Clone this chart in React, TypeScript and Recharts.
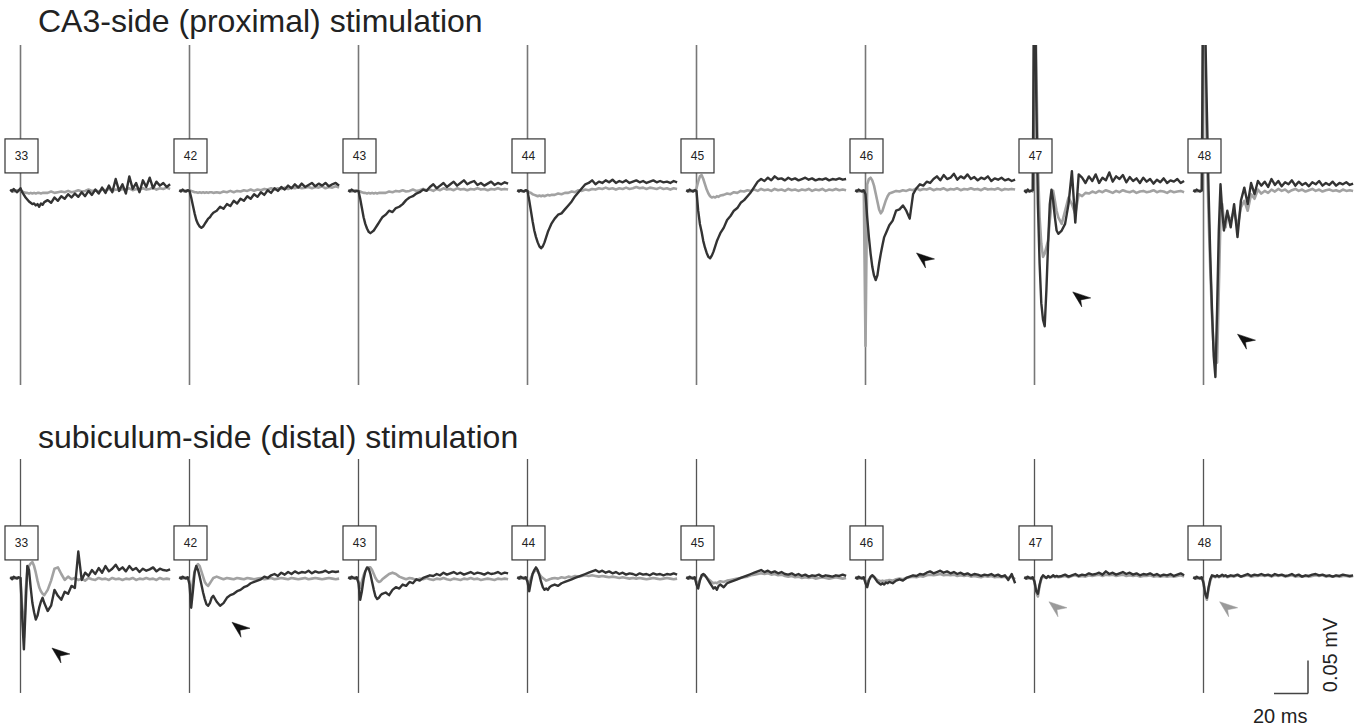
import React from "react";
import { LineChart, Line, XAxis, YAxis, ReferenceLine, ReferenceDot } from "recharts";

// sample times relative to the stimulus (ms), shared by every sweep
const TIMES_MS = [
  -6, -5, -4, -3, -2, -1,
  0, 1, 2, 3, 4, 5, 6, 7, 8, 9, 10, 11, 12, 13, 14,
  16, 18, 20, 22, 24, 26, 28, 30, 32, 34, 36, 38, 40, 42, 44, 46, 48, 50, 52,
  54, 56, 58, 60, 62, 64, 66, 68, 70, 72, 74, 76, 78, 80, 82, 84, 86, 88,
];

const PANEL_LABELS = ["33", "42", "43", "44", "45", "46", "47", "48"];

// CA3-side (proximal) stimulation, field potential in µV
const PROX_DARK = [
  [2, -1, 3, 0, -2, 1,
    4, -2, -6, -10, -13, -16, -18, -20, -19, -22, -20, -24, -19, -21, -17,
    -14, -18, -10, -15, -8, -12, -5, -10, -4, -9, -2, -8, 0, -6, 2, -4, 5, -3, 8, -2,
    18, 0, 10, -4, 22, 3, 12, -2, 16, 6, 20, 4, 14, 8, 12, 6, 10],
  [1, -1, 2, 0, -1, 1,
    0, -10, -22, -34, -44, -50, -54, -56, -54, -50, -46, -42, -40, -36, -33,
    -30, -24, -27, -20, -23, -15, -19, -12, -15, -8, -12, -5, -9, -2, -6, 1, -3, 4, 0, 6,
    2, 8, 4, 10, 5, 11, 6, 9, 12, 7, 11, 8, 12, 7, 10, 12, 8],
  [1, -1, 2, 0, -1, 0,
    0, -12, -26, -40, -50, -57, -62, -64, -62, -60, -56, -52, -48, -44, -40,
    -36, -30, -32, -26, -24, -20, -14, -10, -8, -4, -2, 2, 0, 6, 10, 4, 8, 12, 6, 10,
    14, 8, 12, 16, 10, 13, 15, 9, 12, 8, 11, 14, 9, 12, 10, 13, 11],
  [1, -1, 1, 0, -1, 1,
    0, -14, -30, -46, -60, -70, -78, -84, -87, -84, -78, -70, -62, -56, -50,
    -42, -36, -34, -28, -22, -16, -8, -2, 4, 10, 12, 16, 10, 14, 12, 16, 13, 17, 12, 15,
    13, 16, 12, 14, 16, 13, 15, 12, 14, 16, 13, 15, 13, 14, 12, 15, 13],
  [1, -1, 2, 0, -1, 1,
    0, -30, -50, -62, -76, -86, -94, -100, -102, -98, -92, -84, -76, -70, -64,
    -56, -44, -38, -30, -26, -18, -14, -8, -2, 6, 14, 18, 15, 20, 16, 22, 18, 19, 16, 20,
    17, 19, 16, 18, 20, 17, 19, 16, 18, 17, 19, 16, 18, 17, 19, 17, 18],
  [1, -1, 2, 0, -1, 1,
    -5, -40, -70, -95, -115, -128, -135, -128, -110, -95, -82, -70, -64, -58, -52,
    -45, -30, -28, -22, -30, -42, -5, 4, 10, 8, 14, 12, 18, 22, 16, 24, 18, 20, 26, 17,
    22, 19, 25, 18, 21, 16, 20, 18, 22, 15, 19, 17, 20, 16, 18, 15, 17],
  [1, -2, 2, -1, 0, 1,
    400, 150, -20, -110, -170, -195, -205, -150, -80, -20, 2, -15, -40, -60, -65,
    -60, -50, -20, 30, -48, 25, 20, 12, 22, 15, 25, 12, 20, 16, 28, 14, 22, 18, 24, 13,
    21, 15, 19, 12, 20, 14, 18, 11, 17, 13, 19, 12, 16, 14, 18, 12, 15],
  [1, -1, 2, 0, -1, 1,
    400, 250, 120, 0, -100, -180, -250, -282, -180, -60, 10, -30, -60, -45, -30,
    -55, -20, -70, -15, 5, -20, 12, -5, 15, 8, 14, 6, 18, 9, 15, 7, 13, 10, 16, 8,
    14, 9, 12, 7, 13, 10, 15, 8, 12, 9, 14, 8, 12, 10, 13, 9, 11],
];

const PROX_GRAY = [
  [0, 1, -1, 0, 1, 0,
    1, -1, -2, -3, -3, -4, -3, -4, -3, -4, -3, -3, -4, -3, -3,
    -3, -1, -3, -2, -1, -2, 0, -2, -1, 1, -1, 0, 2, 0, 1, -1, 2, 1, 3, 0,
    2, 1, 3, 2, 4, 1, 3, 2, 4, 2, 3, 5, 2, 4, 3, 5, 3],
  [0, 1, 0, -1, 1, 0,
    1, 0, -1, -2, -2, -3, -2, -3, -2, -3, -2, -3, -2, -2, -3,
    -2, -3, -1, -2, 0, -2, 0, -1, 1, 0, 2, 0, 2, 1, 3, 2, 4, 2, 4, 3,
    5, 3, 5, 4, 6, 4, 5, 6, 4, 6, 5, 7, 4, 6, 5, 7, 5],
  [0, 1, -1, 0, 1, 0,
    0, -1, -2, -3, -3, -4, -3, -4, -3, -4, -3, -4, -3, -3, -3,
    -3, -1, -2, 0, -1, 1, -1, 0, 2, 0, 1, 3, 1, 2, 0, 3, 1, 4, 2, 3,
    1, 4, 2, 3, 1, 3, 2, 4, 2, 3, 1, 3, 2, 4, 2, 3, 2],
  [0, 1, 0, -1, 0, 1,
    0, -2, -3, -5, -6, -7, -8, -7, -8, -7, -8, -7, -6, -7, -6,
    -6, -4, -5, -3, -3, -1, -2, 1, 0, 2, 1, 3, 2, 4, 3, 5, 3, 4, 2, 4,
    3, 5, 3, 4, 6, 4, 5, 3, 5, 4, 3, 5, 3, 4, 2, 4, 3],
  [0, 1, -1, 0, 1, 0,
    4, 14, 22, 24, 18, 10, 2, -4, -8, -10, -9, -10, -8, -9, -7,
    -6, -4, -5, -2, -3, 0, -1, 1, 0, 2, 0, 3, 1, 2, 0, 3, 1, 2, 0, 3,
    1, 2, 0, 2, 1, 3, 0, 2, 1, 3, 0, 2, 1, 3, 1, 2, 1],
  [0, 1, -1, 0, 1, 0,
    -235, 10, 18, 20, 16, 8, -4, -16, -28, -34, -30, -22, -14, -8, -4,
    -2, 0, -1, 1, 0, 2, 1, 4, 1, 3, 2, 4, 1, 3, 2, 4, 1, 3, 2, 4,
    1, 3, 2, 4, 2, 3, 1, 4, 2, 3, 2, 4, 1, 3, 2, 3, 2],
  [0, 1, -1, 0, 1, -1,
    400, 200, 40, -40, -80, -100, -95, -85, -75, -45, -20, 0, -15, -30, -40,
    -50, -30, -10, -20, -35, -5, -8, -3, -4, -1, -3, 0, -2, 1, -1, -3, 0, -2, 1, -1,
    -2, 0, -3, -1, 0, -2, -1, 1, -2, 0, -1, -3, 0, -2, -1, 0, -2],
  [0, 1, -1, 0, 1, 0,
    400, 180, 60, -40, -120, -190, -240, -255, -260, -150, -40, -20, -45, -55, -35,
    -45, -30, -55, -25, -15, -30, -5, -12, 2, -4, 0, -3, 2, -1, 3, 0, 2, -2, 1, 3,
    0, 2, -1, 1, 3, 0, 2, -1, 1, 2, 0, 1, -1, 2, 0, 1, 0],
];

// subiculum-side (distal) stimulation, field potential in µV
const DIST_DARK = [
  [1, -2, 2, 0, -1, 1,
    0, -60, -108, -45, 18, 12, -15, -38, -52, -63, -57, -45, -36, -30, -38,
    -50, -42, -18, -27, -33, -21, -24, -12, -15, 40, -3, 8, 3, 12, 6, 15, 8, 18, 10, 14,
    20, 12, 16, 10, 18, 12, 15, 9, 14, 11, 13, 16, 10, 14, 12, 11, 13],
  [1, -1, 2, 0, -1, 1,
    -10, -45, -20, 8, 18, 12, 2, -10, -22, -32, -40, -42, -38, -30, -27,
    -36, -42, -38, -30, -26, -24, -20, -18, -14, -12, -8, -6, -4, -2, 2, 0, 4, 6, 3, 8,
    5, 9, 6, 10, 7, 9, 8, 11, 7, 10, 8, 9, 11, 8, 10, 9, 10],
  [1, -1, 2, 0, -1, 1,
    -8, -33, -20, -2, 10, 16, 14, 6, -6, -18, -28, -32, -30, -26, -24,
    -22, -26, -18, -14, -16, -10, -12, -6, -8, -2, -4, 0, 2, 4, 3, 6, 4, 8, 5, 7,
    9, 6, 8, 5, 7, 9, 6, 8, 7, 5, 8, 6, 7, 9, 6, 8, 7],
  [1, -1, 2, 0, -1, 1,
    -6, -20, -6, 6, 12, 16, 12, 4, -6, -14, -18, -16, -18, -14, -12,
    -10, -12, -8, -6, -4, -2, 0, 2, 4, 6, 8, 10, 12, 9, 11, 8, 10, 7, 9, 6,
    8, 5, 7, 6, 4, 7, 5, 6, 4, 7, 5, 6, 4, 6, 5, 7, 5],
  [1, -1, 2, 0, -1, 1,
    -10, -16, -4, 4, 6, 4, 0, -4, -8, -12, -16, -14, -18, -12, -10,
    -14, -8, -6, -4, -2, 0, 2, 4, 6, 8, 10, 12, 9, 11, 8, 10, 7, 9, 6, 5,
    7, 4, 6, 3, 5, 2, 4, 3, 5, 2, 4, 3, 2, 4, 3, 5, 3],
  [1, -1, 2, 0, -1, 1,
    -8, -14, -4, 2, 4, 2, -2, -6, -8, -10, -8, -10, -7, -8, -6,
    -8, -4, -2, -4, 0, 2, 4, 3, 6, 5, 8, 10, 7, 9, 11, 8, 10, 7, 9, 6,
    8, 5, 7, 4, 6, 5, 3, 5, 4, 6, 3, 5, 2, 4, -3, 6, -8],
  [1, -1, 2, 0, -1, 1,
    -6, -20, -24, -10, 0, 4, 2, 0, 3, 1, 2, 4, 2, 3, 2,
    3, 5, 2, 4, 6, 3, 5, 4, 7, 5, 6, 8, 5, 10, 6, 8, 5, 7, 9, 6,
    8, 5, 7, 4, 6, 5, 7, 4, 6, 3, 5, 4, 6, 3, 5, 7, 4],
  [1, -1, 2, 0, -1, 1,
    -8, -24, -30, -14, -2, 4, 3, 2, 4, 2, 3, 5, 3, 4, 2,
    4, 3, 5, 2, 4, 6, 3, 5, 4, 6, 4, 5, 3, 6, 4, 5, 3, 4, 6, 3,
    5, 2, 4, 3, 5, 6, 4, 5, 3, 4, 2, 4, 3, 5, 4, 3, 4],
];

const DIST_GRAY = [
  [0, 1, -1, 0, 1, 0,
    0, -50, -90, -20, 10, 18, 22, 24, 18, 8, -4, -14, -20, -24, -26,
    -18, -4, 14, 16, 6, -3, 2, -2, 0, -3, -1, -4, 0, -2, -3, 0, -2, -1, -3, 0,
    -2, -1, -3, -1, -2, 0, -3, -1, -2, 0, -2, -1, -3, 0, -2, -1, -2],
  [0, 1, -1, 0, 1, 0,
    -5, -30, -5, 10, 18, 21, 18, 10, 2, -6, -10, -12, -8, -4, 0,
    2, 0, -2, 0, -1, -2, 0, -1, -2, 0, -1, -2, -1, 0, -2, -1, 0, -2, -1, 0,
    -1, -2, 0, -1, -2, -1, 0, -2, -1, 0, -1, -2, -1, 0, -1, -2, -1],
  [0, 1, -1, 0, 1, 0,
    -5, -15, -5, 4, 10, 14, 16, 16, 12, 6, 0, -4, -6, -5, -2,
    2, 6, 8, 6, 2, 0, -2, 0, -1, -3, -1, -2, 0, -2, -3, -1, -2, 0, -2, -3,
    -1, -2, -3, -1, -2, 0, -2, -1, -3, -2, -1, -2, -3, -1, -2, -1, -2],
  [0, 1, -1, 0, 1, 0,
    -4, -10, 0, 6, 10, 12, 10, 6, 2, 0, -2, -4, -3, -2, -1,
    0, -1, 1, 0, 2, 1, 3, 2, 3, 4, 3, 4, 3, 2, 3, 2, 1, 2, 1, 0,
    1, 0, -1, 0, -1, 0, -1, -2, -1, 0, -1, -2, -1, 0, -1, -2, -1],
  [0, 1, -1, 0, 1, 0,
    -6, -10, -2, 2, 4, 3, 1, -2, -4, -6, -8, -7, -8, -6, -5,
    -6, -4, -3, -2, -1, 0, 1, 2, 4, 5, 6, 7, 6, 7, 5, 6, 4, 5, 3, 2,
    3, 1, 2, 0, 1, 0, 1, -1, 0, 1, 0, -1, 0, 1, 0, -1, 0],
  [0, 1, -1, 0, 1, 0,
    -4, -8, -2, 1, 2, 1, -1, -3, -4, -5, -4, -5, -4, -4, -3,
    -4, -2, -1, -2, 0, 1, 2, 1, 3, 2, 4, 5, 4, 5, 6, 4, 5, 4, 5, 3,
    4, 3, 4, 2, 3, 2, 1, 3, 2, 3, 1, 2, 1, 2, 0, 2, -2],
  [0, 1, -1, 0, 1, 0,
    -4, -22, -28, -12, -2, 2, 1, 0, 2, 1, 1, 3, 1, 2, 1,
    2, 3, 1, 3, 4, 2, 3, 2, 4, 3, 4, 5, 3, 5, 4, 5, 3, 4, 5, 3,
    4, 3, 4, 2, 3, 3, 4, 2, 3, 2, 3, 2, 3, 2, 3, 4, 2],
  [0, 1, -1, 0, 1, 0,
    -5, -26, -33, -16, -4, 2, 2, 1, 3, 1, 2, 3, 2, 3, 1,
    3, 2, 4, 2, 3, 4, 2, 3, 3, 4, 3, 4, 2, 4, 3, 4, 2, 3, 4, 2,
    3, 2, 3, 2, 3, 4, 3, 4, 2, 3, 2, 3, 2, 3, 3, 2, 3],
];

// arrowheads marking responses: panel index, time after stimulus (ms), level (µV)
const PROX_ARROWS = [
  { panel: 5, t: 30, v: -94 },
  { panel: 6, t: 22.5, v: -153 },
  { panel: 7, t: 20, v: -217 },
];
const DIST_ARROWS = [
  { panel: 0, t: 18.5, v: -106, muted: false },
  { panel: 1, t: 25, v: -67, muted: false },
  { panel: 6, t: 8.5, v: -36, muted: true },
  { panel: 7, t: 9.5, v: -36, muted: true },
];

const SCALE_MS = 20;
const SCALE_UV = 50;

// layout
const W = 1354;
const PX_PER_MS = 1.7;
const X_MAX = W / PX_PER_MS;
const FIRST_STIM_MS = 20.5 / PX_PER_MS;
const PANEL_PITCH_MS = 169 / PX_PER_MS;
const GAP_MS = 92;
const FONT = 'Arial, "Liberation Sans", Helvetica, sans-serif';
const DARK = "#333333";
const GRAY = "#a2a2a2";

type Pt = { x: number; dark: number | null; gray: number | null };

function buildRow(dark: number[][], gray: number[][]): Pt[] {
  const rows: Pt[] = [];
  dark.forEach((trace, i) => {
    const off = FIRST_STIM_MS + i * PANEL_PITCH_MS;
    TIMES_MS.forEach((t, k) => rows.push({ x: off + t, dark: trace[k], gray: gray[i][k] }));
    rows.push({ x: off + GAP_MS, dark: null, gray: null });
  });
  return rows;
}

const stimX = (i: number) => FIRST_STIM_MS + i * PANEL_PITCH_MS;

function LabelBox({ cx, cy, text }: { cx?: number; cy?: number; text: string }) {
  if (cx == null || cy == null) return null;
  return (
    <g>
      <rect x={cx - 15.5} y={cy - 17} width={33} height={34} fill="#fff" stroke="#333" strokeWidth={1.2} />
      <text x={cx + 1} y={cy + 4.5} textAnchor="middle" fontSize={12} fill="#222" fontFamily={FONT}>
        {text}
      </text>
    </g>
  );
}

function ArrowHead({ cx, cy, color }: { cx?: number; cy?: number; color: string }) {
  if (cx == null || cy == null) return null;
  const d = `M${cx},${cy} L${cx + 18},${cy + 6} L${cx + 8},${cy + 8} L${cx + 9},${cy + 15} Z`;
  return <path d={d} fill={color} stroke={color} strokeWidth={0.5} strokeLinejoin="round" />;
}

const row1 = buildRow(PROX_DARK, PROX_GRAY);
const row2 = buildRow(DIST_DARK, DIST_GRAY);

const noMargin = { top: 0, right: 0, bottom: 0, left: 0 };

export default function App() {
  const sbX = 1308 / PX_PER_MS;
  const sbY = -175;
  return (
    <div style={{ position: "absolute", left: 0, top: 0, width: W, height: 726, background: "#fff", fontFamily: FONT, overflow: "hidden" }}>
      <div style={{ position: "absolute", left: 38, top: 5, fontSize: 32, lineHeight: "32px", color: "#222", whiteSpace: "nowrap" }}>
        CA3-side (proximal) stimulation
      </div>

      <div style={{ position: "absolute", left: 0, top: 45 }}>
        <LineChart width={W} height={340} data={row1} margin={noMargin}>
          <XAxis dataKey="x" type="number" domain={[0, X_MAX]} hide allowDataOverflow />
          <YAxis type="number" domain={[-294, 221]} hide allowDataOverflow />
          {PANEL_LABELS.map((_, i) => (
            <ReferenceLine key={"s" + i} x={stimX(i)} stroke="#777" strokeWidth={1.6} />
          ))}
          <Line dataKey="gray" stroke={GRAY} strokeWidth={2.6} strokeLinejoin="round" dot={false} isAnimationActive={false} />
          <Line dataKey="dark" stroke={DARK} strokeWidth={2.4} strokeLinejoin="round" dot={false} isAnimationActive={false} />
          {PANEL_LABELS.map((lab, i) => (
            <ReferenceDot key={"b" + i} x={stimX(i)} y={53} shape={(p: any) => <LabelBox cx={p.cx} cy={p.cy} text={lab} />} />
          ))}
          {PROX_ARROWS.map((a, i) => (
            <ReferenceDot key={"a" + i} x={stimX(a.panel) + a.t} y={a.v} shape={(p: any) => <ArrowHead cx={p.cx} cy={p.cy} color="#111" />} />
          ))}
        </LineChart>
      </div>

      <div style={{ position: "absolute", left: 38, top: 421, fontSize: 32, lineHeight: "32px", color: "#222", whiteSpace: "nowrap" }}>
        subiculum-side (distal) stimulation
      </div>

      <div style={{ position: "absolute", left: 0, top: 459 }}>
        <LineChart width={W} height={267} data={row2} margin={noMargin}>
          <XAxis dataKey="x" type="number" domain={[0, X_MAX]} hide allowDataOverflow />
          <YAxis type="number" domain={[-224, 180]} hide allowDataOverflow />
          {PANEL_LABELS.map((_, i) => (
            <ReferenceLine
              key={"s" + i}
              segment={[{ x: stimX(i), y: 180 }, { x: stimX(i), y: -174 }]}
              stroke="#555"
              strokeWidth={1.3}
            />
          ))}
          <Line dataKey="gray" stroke={GRAY} strokeWidth={2.6} strokeLinejoin="round" dot={false} isAnimationActive={false} />
          <Line dataKey="dark" stroke={DARK} strokeWidth={2.4} strokeLinejoin="round" dot={false} isAnimationActive={false} />
          {PANEL_LABELS.map((lab, i) => (
            <ReferenceDot key={"b" + i} x={stimX(i)} y={53} shape={(p: any) => <LabelBox cx={p.cx} cy={p.cy} text={lab} />} />
          ))}
          {DIST_ARROWS.map((a, i) => (
            <ReferenceDot
              key={"a" + i}
              x={stimX(a.panel) + a.t}
              y={a.v}
              shape={(p: any) => <ArrowHead cx={p.cx} cy={p.cy} color={a.muted ? "#9a9a9a" : "#111"} />}
            />
          ))}
          {/* scale bar */}
          <ReferenceLine segment={[{ x: sbX - SCALE_MS, y: sbY }, { x: sbX, y: sbY }]} stroke="#444" strokeWidth={1.5} />
          <ReferenceLine segment={[{ x: sbX, y: sbY }, { x: sbX, y: sbY + SCALE_UV }]} stroke="#444" strokeWidth={1.5} />
        </LineChart>
      </div>

      <div style={{ position: "absolute", left: 1253, top: 706, fontSize: 20, lineHeight: "20px", color: "#222", whiteSpace: "nowrap" }}>
        20 ms
      </div>
      <div
        style={{
          position: "absolute",
          left: 1330,
          top: 655,
          fontSize: 20,
          lineHeight: "20px",
          color: "#222",
          whiteSpace: "nowrap",
          transform: "translate(-50%, -50%) rotate(-90deg)",
        }}
      >
        0.05 mV
      </div>
    </div>
  );
}
